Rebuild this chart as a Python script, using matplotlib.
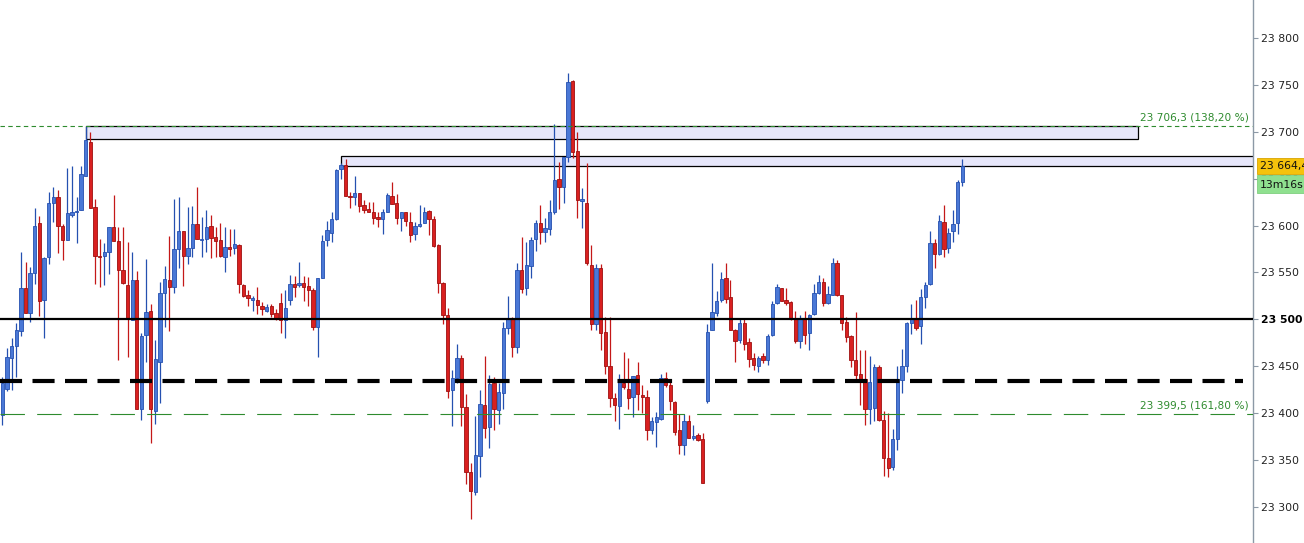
import numpy as np
import matplotlib
matplotlib.use("Agg")
import matplotlib.pyplot as plt
from matplotlib.patches import Rectangle

# ---------------- data ----------------
opens = [23398,23426,23459,23472,23488,23533,23507,23549,23603,23521,
         23566,23624,23630,23600,23585,23611,23615,23617,23653,23689,
         23620,23568,23568,23572,23598,23584,23553,23537,23499,23542,
         23404,23483,23509,23402,23455,23528,23542,23535,23575,23594,
         23568,23576,23602,23585,23586,23600,23588,23585,23567,23577,
         23576,23579,23537,23526,23521,23521,23514,23509,23514,23507,
         23517,23499,23521,23538,23537,23539,23536,23531,23492,23544,
         23585,23592,23607,23660,23665,23632,23631,23635,23622,23618,
         23615,23609,23607,23615,23632,23624,23608,23614,23604,23591,
         23600,23603,23616,23607,23579,23539,23505,23425,23437,23459,
         23407,23337,23316,23354,23409,23385,23432,23403,23421,23491,
         23501,23471,23553,23533,23557,23586,23603,23593,23596,23614,
         23650,23641,23673,23754,23679,23626,23624,23558,23495,23555,
         23487,23450,23416,23408,23432,23426,23417,23441,23419,23417,
         23382,23391,23394,23437,23430,23412,23382,23366,23392,23374,
         23377,23372,23413,23489,23507,23521,23544,23524,23489,23478,
         23496,23476,23459,23450,23461,23457,23483,23517,23533,23521,
         23519,23500,23477,23501,23485,23506,23528,23540,23517,23526,
         23560,23526,23497,23482,23457,23442,23436,23404,23406,23449,
         23393,23352,23343,23372,23435,23450,23496,23501,23493,23524,
         23538,23581,23570,23604,23576,23594,23603,23647]
highs = [23439,23469,23480,23496,23572,23561,23556,23619,23610,23567,
         23636,23641,23638,23602,23661,23663,23630,23663,23706,23700,
         23628,23586,23581,23599,23633,23599,23599,23582,23572,23552,
         23485,23564,23516,23478,23540,23557,23589,23628,23630,23594,
         23620,23621,23641,23609,23617,23611,23599,23603,23599,23596,
         23596,23580,23538,23531,23525,23535,23519,23516,23516,23511,
         23528,23531,23547,23546,23561,23546,23545,23533,23544,23590,
         23605,23615,23660,23667,23671,23636,23653,23635,23627,23625,
         23625,23615,23618,23635,23646,23634,23615,23615,23615,23604,
         23622,23620,23617,23610,23580,23540,23512,23446,23474,23462,
         23420,23347,23397,23425,23461,23441,23439,23432,23497,23525,
         23503,23560,23588,23583,23588,23606,23622,23608,23627,23708,
         23668,23673,23763,23755,23700,23640,23667,23579,23559,23559,
         23503,23503,23421,23442,23465,23459,23440,23455,23430,23425,
         23396,23401,23442,23444,23433,23413,23399,23399,23398,23387,
         23379,23379,23495,23560,23530,23550,23560,23542,23490,23501,
         23501,23480,23464,23461,23464,23484,23520,23538,23533,23533,
         23520,23509,23505,23509,23506,23538,23547,23544,23536,23565,
         23563,23526,23503,23483,23508,23467,23467,23461,23452,23451,
         23402,23400,23383,23450,23468,23497,23516,23521,23532,23540,
         23594,23586,23611,23622,23597,23617,23649,23671]
lows = [23387,23424,23425,23439,23482,23507,23497,23538,23504,23480,
        23559,23604,23571,23563,23585,23609,23581,23617,23653,23619,
        23538,23534,23537,23548,23584,23457,23538,23460,23499,23404,
        23393,23455,23368,23389,23411,23492,23488,23528,23555,23536,
        23559,23566,23586,23567,23572,23565,23566,23566,23551,23568,
        23570,23528,23524,23514,23509,23506,23505,23508,23503,23499,
        23486,23480,23515,23524,23535,23520,23514,23489,23460,23544,
        23578,23583,23606,23650,23632,23619,23622,23615,23613,23614,
        23602,23599,23591,23615,23623,23602,23594,23600,23583,23585,
        23599,23603,23590,23577,23528,23495,23416,23386,23432,23386,
        23325,23287,23313,23332,23374,23363,23382,23389,23404,23484,
        23460,23464,23528,23526,23544,23573,23580,23583,23590,23612,
        23618,23624,23668,23672,23608,23597,23558,23489,23489,23467,
        23442,23407,23392,23383,23426,23404,23396,23403,23400,23371,
        23378,23364,23393,23428,23403,23377,23356,23355,23374,23371,
        23370,23326,23411,23489,23504,23519,23517,23489,23455,23475,
        23467,23449,23446,23444,23454,23451,23482,23516,23520,23515,
        23499,23475,23469,23474,23467,23505,23527,23514,23516,23526,
        23525,23489,23476,23449,23435,23409,23387,23389,23392,23392,
        23333,23332,23339,23361,23421,23444,23484,23489,23474,23512,
        23537,23555,23569,23567,23571,23583,23591,23642]
closes = [23432,23460,23472,23489,23533,23507,23549,23600,23520,23565,
          23624,23630,23600,23585,23613,23615,23616,23655,23691,23619,
          23568,23566,23572,23599,23584,23553,23539,23500,23542,23404,
          23482,23508,23404,23458,23528,23543,23535,23575,23594,23568,
          23576,23602,23586,23586,23598,23587,23584,23568,23577,23575,
          23580,23538,23525,23523,23523,23515,23511,23513,23506,23501,
          23499,23512,23538,23535,23539,23534,23531,23492,23544,23584,
          23595,23607,23659,23665,23632,23630,23635,23621,23617,23615,
          23608,23607,23614,23633,23623,23608,23614,23605,23590,23600,
          23602,23615,23607,23578,23539,23505,23424,23438,23459,23407,
          23337,23317,23355,23410,23384,23431,23404,23423,23491,23501,
          23471,23553,23532,23558,23585,23603,23593,23597,23614,23649,
          23641,23673,23753,23678,23627,23628,23560,23495,23555,23486,
          23450,23416,23409,23434,23428,23416,23440,23420,23417,23382,
          23392,23396,23437,23430,23413,23380,23366,23392,23374,23376,
          23371,23326,23487,23508,23520,23543,23522,23489,23477,23496,
          23474,23458,23451,23459,23457,23482,23516,23534,23520,23518,
          23500,23477,23501,23483,23505,23528,23540,23517,23527,23560,
          23526,23496,23481,23457,23441,23436,23404,23433,23449,23393,
          23352,23342,23372,23436,23450,23496,23501,23491,23524,23537,
          23581,23570,23605,23575,23592,23602,23646,23664]

y_ticks = [23300, 23350, 23400, 23450, 23500, 23550, 23600, 23650, 23700, 23750, 23800]
fib_levels = [23706.3, 23399.5]
fib_labels = ["23 706,3 (138,20 %)", "23 399,5 (161,80 %)"]
support_level = 23500
dashed_level = 23434
zones = [(18, 244.9, 23692.0, 23706.3), (73, 300.0, 23663.7, 23674.2)]  # start idx, end idx, bottom, top
last_price_label = "23 664,4"
timer_label = "13m16s"

# ---------------- figure ----------------
W, H = 1304, 543
fig = plt.figure(figsize=(W / 100, H / 100), dpi=100)
ax = fig.add_axes([0, 0, 1253 / W, 1])

n = len(opens)
x = np.arange(n)
o = np.array(opens, float); h = np.array(highs, float)
l = np.array(lows, float); c = np.array(closes, float)
up = c >= o

ax.set_xlim(-0.5, 269.66)
ax.set_ylim(23261.6, 23840.5)

# zones (behind candles)
for (s, e, b, t) in zones:
    ax.add_patch(Rectangle((s, b), e - s, t - b, facecolor="#e6e6fa",
                           edgecolor="black", linewidth=0.9, zorder=1))

blue_f, blue_e = "#4a78d6", "#2550b0"
red_f, red_e = "#d92020", "#9e1010"

ax.vlines(x[up], l[up], h[up], color=blue_e, linewidth=0.9, zorder=2)
ax.vlines(x[~up], l[~up], h[~up], color="#c41818", linewidth=0.9, zorder=2)
bh = np.maximum(np.abs(c - o), 1.0)
bb = np.minimum(o, c)
ax.bar(x[up], bh[up], bottom=bb[up], width=0.72, color=blue_f,
       edgecolor=blue_e, linewidth=0.6, zorder=3)
ax.bar(x[~up], bh[~up], bottom=bb[~up], width=0.72, color=red_f,
       edgecolor=red_e, linewidth=0.6, zorder=3)

# horizontal levels
ax.axhline(fib_levels[0], color="#2e8b2e", linewidth=0.8, dashes=(4, 3), zorder=4)
ax.axhline(fib_levels[1], color="#2e8b2e", linewidth=0.8, dashes=(22, 11), zorder=4)
ax.axhline(support_level, color="black", linewidth=1.6, zorder=5)
ax.plot([-0.42, 267.5], [dashed_level, dashed_level], color="black",
        linewidth=3.0, dashes=(5.3, 2.5), zorder=5, solid_capstyle="butt",
        dash_capstyle="butt")

ax.text(268.8, fib_levels[0] + 3.5, fib_labels[0], color="#2e8b2e",
        fontsize=7.6, ha="right", va="bottom", zorder=6)
ax.text(268.8, fib_levels[1] + 3.5, fib_labels[1], color="#2e8b2e",
        fontsize=7.6, ha="right", va="bottom", zorder=6)

# axes styling
for sp in ["top", "left", "bottom"]:
    ax.spines[sp].set_visible(False)
ax.spines["right"].set_color("#8c99a6")
ax.spines["right"].set_linewidth(1.0)
ax.set_xticks([])
ax.yaxis.tick_right()
ax.set_yticks(y_ticks)
ax.set_yticklabels([f"{v:,}".replace(",", " ") for v in y_ticks])
ax.tick_params(axis="y", direction="out", length=3.5, width=0.8,
               colors="#8c99a6", labelcolor="#222222", labelsize=7.8, pad=2.5)
for lab, v in zip(ax.get_yticklabels(), y_ticks):
    if v == support_level:
        lab.set_fontweight("bold")
        lab.set_color("black")

# price boxes on the right axis
fig.patches.append(Rectangle((1257 / W, 1 - 174 / H), 60 / W, 16 / H,
                             transform=fig.transFigure, facecolor="#f5c20c",
                             edgecolor="#d9a400", linewidth=0.6, zorder=10))
fig.patches.append(Rectangle((1257 / W, 1 - 193.5 / H), 60 / W, 18 / H,
                             transform=fig.transFigure, facecolor="#8fe08f",
                             edgecolor="#7fcf7f", linewidth=0.6, zorder=10))
fig.text(1260 / W, 1 - 166 / H, last_price_label, fontsize=7.8, color="#111111",
         va="center", ha="left", zorder=11)
fig.text(1260 / W, 1 - 184.5 / H, timer_label, fontsize=7.8, color="#111111",
         va="center", ha="left", zorder=11)

fig.savefig("out.png", dpi=100)
